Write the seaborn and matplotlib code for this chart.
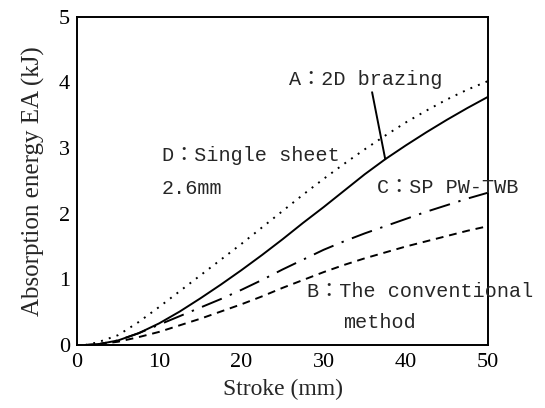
import numpy as np
import pandas as pd
import matplotlib
matplotlib.use("Agg")
import matplotlib.pyplot as plt
import seaborn as sns
from matplotlib.ticker import MultipleLocator

# ---- data ----
stroke = [1, 2.5, 5, 7.5, 10, 12.5, 15, 17.5, 20, 22.5, 25, 27.5, 30, 32.5, 35,
          37.5, 40, 42.5, 45, 47.5, 50]
ea_A_2d_brazing = [0, 0.01, 0.07, 0.18, 0.33, 0.51, 0.71, 0.92, 1.14, 1.37, 1.61,
                   1.86, 2.10, 2.35, 2.60, 2.83, 3.04, 3.24, 3.43, 3.61, 3.78]
ea_D_single_sheet = [0, 0.04, 0.15, 0.35, 0.58, 0.82, 1.06, 1.30, 1.54, 1.79, 2.04,
                     2.29, 2.53, 2.76, 2.98, 3.19, 3.39, 3.57, 3.74, 3.89, 4.02]
ea_C_sp_pw_twb = [0, 0.01, 0.07, 0.18, 0.31, 0.44, 0.57, 0.70, 0.84, 0.99, 1.15,
                  1.30, 1.45, 1.58, 1.70, 1.81, 1.92, 2.03, 2.13, 2.23, 2.32]
ea_B_conventional = [0, 0.01, 0.05, 0.12, 0.20, 0.30, 0.40, 0.51, 0.62, 0.74, 0.87,
                     0.99, 1.11, 1.22, 1.32, 1.41, 1.50, 1.58, 1.66, 1.74, 1.81]

x_label = "Stroke (mm)"
y_label = "Absorption energy EA (kJ)"
label_A = "A\uff1a2D brazing"
label_D1 = "D\uff1aSingle sheet"
label_D2 = "2.6mm"
label_C = "C\uff1aSP PW-TWB"
label_B1 = "B\uff1aThe conventional"
label_B2 = "method"

sns.set_style("white")
plt.rcParams["font.family"] = ["Liberation Serif", "DejaVu Serif"]

fig = plt.figure(figsize=(5.45, 4.08), dpi=100)
ax = fig.add_axes([0.1413, 0.1544, 0.8954 - 0.1413, 0.959 - 0.1544])

lw = 1.4
sns.lineplot(x=stroke, y=ea_D_single_sheet, ax=ax, color="black", lw=lw,
             linestyle=(0, (1.0, 3.2)))
sns.lineplot(x=stroke, y=ea_A_2d_brazing, ax=ax, color="black", lw=lw,
             linestyle="-")
sns.lineplot(x=stroke, y=ea_C_sp_pw_twb, ax=ax, color="black", lw=lw,
             linestyle=(0, (11, 4.5, 1.2, 4.5)))
sns.lineplot(x=stroke, y=ea_B_conventional, ax=ax, color="black", lw=lw,
             linestyle=(0, (4, 3)))

ax.set_xlim(0, 50)
ax.set_ylim(0, 5)
ax.xaxis.set_major_locator(MultipleLocator(10))
ax.xaxis.set_minor_locator(MultipleLocator(5))
ax.yaxis.set_major_locator(MultipleLocator(1))
ax.yaxis.set_minor_locator(MultipleLocator(0.5))
ax.tick_params(which="both", direction="in", top=False, right=False,
               width=1.2, colors="black", labelsize=16)
ax.tick_params(axis="x", pad=6)
ax.tick_params(axis="y", pad=5)
ax.tick_params(which="major", length=7)
ax.tick_params(which="minor", length=5)
for sp in ax.spines.values():
    sp.set_linewidth(1.4)
    sp.set_color("black")

ax.set_xlabel(x_label, fontsize=17, labelpad=5)
ax.set_ylabel(y_label, fontsize=18, labelpad=10)

tfam = ["Liberation Mono", "Noto Sans CJK TC"]
tsz = 14.5
ax.text(25.8, 4.05, label_A, family=tfam, fontsize=tsz, va="center", ha="left")
ax.text(10.3, 2.89, label_D1, family=tfam, fontsize=tsz, va="center", ha="left")
ax.text(10.3, 2.39, label_D2, family=tfam, fontsize=tsz, va="center", ha="left")
ax.text(36.5, 2.40, label_C, family=tfam, fontsize=tsz, va="center", ha="left")
ax.text(28.0, 0.81, label_B1, family=tfam, fontsize=tsz, va="center", ha="left")
ax.text(32.4, 0.35, label_B2, family=tfam, fontsize=tsz, va="center", ha="left")
ax.annotate("", xy=(37.5, 2.83), xytext=(35.9, 3.85),
            arrowprops=dict(arrowstyle="-", color="black", lw=1.4,
                            shrinkA=0, shrinkB=0))

fig.savefig("out.png", dpi=100)
